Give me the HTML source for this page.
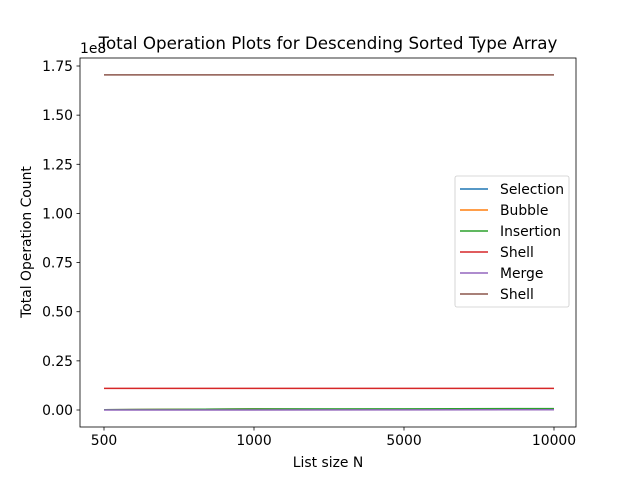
<!DOCTYPE html>
<html><head><meta charset="utf-8"><style>
body{margin:0;background:#fff;}
svg text{font-family:"DejaVu Sans","Liberation Sans",sans-serif;}
</style></head><body>
<svg id="chart" width="640" height="480" xmlns="http://www.w3.org/2000/svg">
<rect width="640" height="480" fill="#fff"/>
<g id="plot"></g>
</svg>
<script>
const categories=["500","1000","5000","10000"];
const seriesNames=["Selection","Bubble","Insertion","Shell","Merge","Shell"];
const colors=["#1f77b4","#ff7f0e","#2ca02c","#d62728","#9467bd","#8c564b"];
const selection=[125000,500000,12500000/50,50000000/100];
const bubble=[124750,499500,200000,400000];
const insertion=[124750,499500,600000,700000];
const shellA=[11000000,11000000,11000000,11000000];
const merge=[5000,10000,60000,130000];
const shellB=[170500000,170500000,170500000,170500000];
const series=[selection,bubble,insertion,shellA,merge,shellB];
const yTicks=[0,0.25,0.5,0.75,1.0,1.25,1.5,1.75];
const yTickLabels=["0.00","0.25","0.50","0.75","1.00","1.25","1.50","1.75"];
const NS="http://www.w3.org/2000/svg";
const L=80,R=576,T=58,B=427;
function xs(i){return 104+i*150;}
function ys(v){return 410-(v/1e8)*196.57;}
const g=document.getElementById('plot');
function mk(t,a,txt){const e=document.createElementNS(NS,t);for(const k in a)e.setAttribute(k,a[k]);if(txt!==undefined)e.textContent=txt;g.appendChild(e);return e;}
series.forEach((s,si)=>{
 const p=mk('polyline',{points:s.map((v,i)=>xs(i)+','+ys(v)).join(' '),fill:'none',stroke:colors[si],'stroke-width':1.5});
 
 
});
let fr=mk('rect',{x:L,y:T,width:R-L,height:B-T,fill:'none',stroke:'#000','stroke-width':0.8});

categories.forEach((c,i)=>{
 mk('line',{x1:xs(i),x2:xs(i),y1:B,y2:B+3.5,stroke:'#000','stroke-width':0.8});
 const t=mk('text',{x:xs(i),y:B+18,'font-size':13.9,'text-anchor':'middle'},c);
 
});
yTicks.forEach((v,i)=>{
 const y=ys(v*1e8);
 mk('line',{x1:L-3.5,x2:L,y1:y,y2:y,stroke:'#000','stroke-width':0.8});
 const t=mk('text',{x:L-7,y:y+5,'font-size':13.9,'text-anchor':'end'},yTickLabels[i]);
 
});
let t;
t=mk('text',{x:80,y:53,'font-size':13.9},'1e8');
t=mk('text',{x:328,y:49,'font-size':16.7,'text-anchor':'middle'},'Total Operation Plots for Descending Sorted Type Array');
t=mk('text',{x:328,y:467,'font-size':13.9,'text-anchor':'middle'},'List size N');
t=mk('text',{x:31,y:242,'font-size':13.9,'text-anchor':'middle',transform:'rotate(-90 31 242)'},'Total Operation Count');
const lg=mk('rect',{x:455,y:176,width:114,height:131,rx:2,fill:'#fff','fill-opacity':0.8,stroke:'#ccc','stroke-width':0.8});

seriesNames.forEach((n,i)=>{
 const y=189+i*21;
 mk('line',{x1:460,x2:488,y1:y,y2:y,stroke:colors[i],'stroke-width':1.5});
 const e=mk('text',{x:500,y:y+5,'font-size':13.9},n);
 
});
</script>
</body></html>
